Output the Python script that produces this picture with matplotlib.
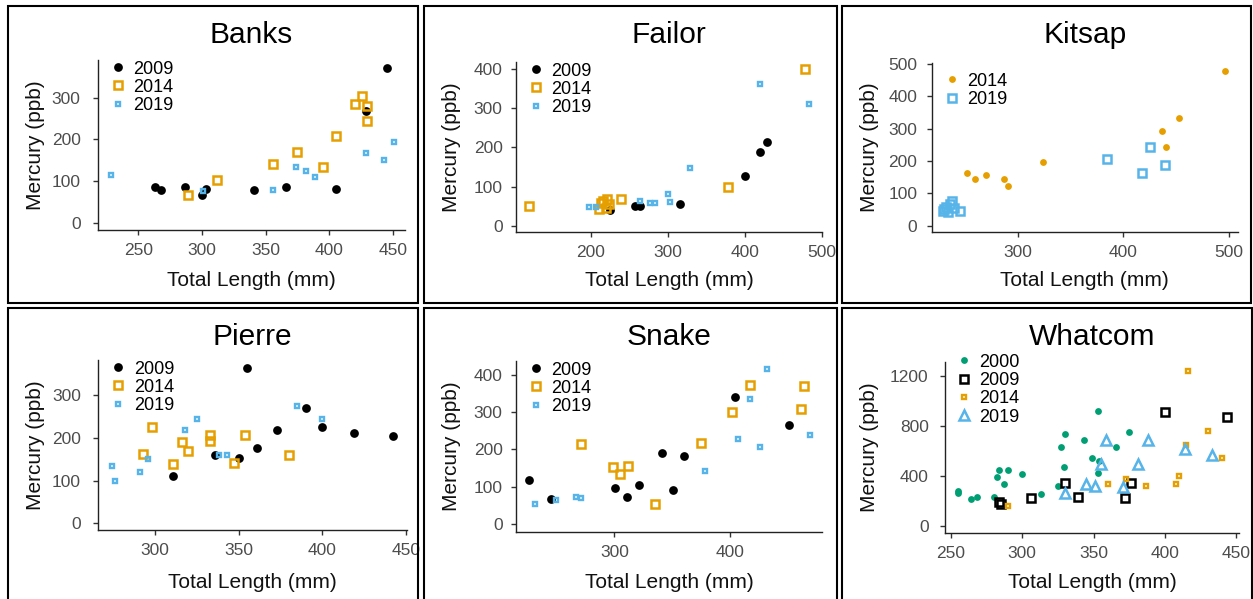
import matplotlib
matplotlib.use("Agg")
import matplotlib.pyplot as plt
from matplotlib.lines import Line2D
from matplotlib.patches import Rectangle

plt.rcParams['font.family'] = ['Liberation Sans', 'DejaVu Sans']

W, H = 1253, 599

BLACK = '#000000'
ORANGE = '#E69F00'
BLUE = '#56B4E9'
GREEN = '#009E73'

# ---- data: total length (mm) and mercury (ppb) by lake and year ----
banks_len_2009 = [263, 268, 287, 300, 303, 341, 366, 405, 429, 445]
banks_hg_2009 = [86, 78, 86, 68, 81, 78, 86, 82, 268, 370]
banks_len_2014 = [289, 312, 356, 375, 395, 405, 420, 426, 430, 430]
banks_hg_2014 = [66, 104, 141, 171, 133, 207, 284, 303, 280, 245]
banks_len_2019 = [229, 301, 356, 374, 382, 389, 429, 443, 451]
banks_hg_2019 = [114, 77, 78, 133, 125, 110, 167, 151, 195]

failor_len_2009 = [225, 257, 263, 316, 400, 420, 428]
failor_hg_2009 = [40, 51, 51, 55, 127, 189, 213]
failor_len_2014 = [119, 211, 213, 216, 219, 221, 223, 239, 378, 478]
failor_hg_2014 = [51, 42, 57, 63, 45, 67, 55, 68, 100, 400]
failor_len_2019 = [197, 207, 264, 276, 283, 300, 303, 329, 420, 483]
failor_hg_2019 = [47, 47, 64, 59, 59, 82, 60, 147, 362, 312]

kitsap_len_2014 = [252, 260, 270, 287, 291, 324, 437, 441, 453, 496]
kitsap_hg_2014 = [164, 144, 158, 144, 124, 198, 294, 244, 334, 480]
kitsap_len_2019 = [229, 230, 232, 234, 236, 238, 240, 245, 385, 418, 425, 440]
kitsap_hg_2019 = [45, 53, 58, 42, 66, 78, 55, 47, 208, 164, 244, 189]

pierre_len_2009 = [311, 336, 350, 355, 361, 373, 390, 400, 419, 442]
pierre_hg_2009 = [111, 160, 152, 362, 175, 217, 270, 224, 210, 203]
pierre_len_2014 = [293, 298, 311, 316, 320, 333, 333, 347, 354, 380]
pierre_hg_2014 = [163, 224, 138, 189, 168, 206, 193, 140, 206, 160]
pierre_len_2019 = [274, 276, 291, 296, 318, 325, 338, 343, 385, 400]
pierre_hg_2019 = [134, 100, 119, 150, 217, 243, 160, 160, 274, 244]

snake_len_2009 = [226, 245, 301, 311, 321, 341, 351, 360, 404, 451]
snake_hg_2009 = [118, 66, 96, 73, 105, 191, 91, 183, 340, 266]
snake_len_2014 = [271, 299, 305, 312, 335, 375, 402, 417, 461, 464]
snake_hg_2014 = [214, 154, 135, 157, 55, 218, 300, 373, 308, 370]
snake_len_2019 = [231, 250, 267, 271, 378, 407, 417, 426, 432, 469]
snake_hg_2019 = [53, 64, 73, 69, 143, 227, 335, 208, 415, 240]

whatcom_len_2000 = [255, 255, 264, 268, 280, 282, 284, 287, 290, 300, 313,
                    325, 327, 329, 330, 343, 349, 353, 353, 354, 366, 375]
whatcom_hg_2000 = [277, 259, 213, 227, 227, 392, 445, 331, 445, 411, 253,
                   317, 632, 472, 733, 683, 539, 917, 419, 517, 632, 747]
whatcom_len_2009 = [284, 285, 306, 330, 339, 372, 376, 400, 444]
whatcom_hg_2009 = [192, 173, 224, 344, 232, 219, 344, 912, 867]
whatcom_len_2014 = [290, 360, 373, 387, 408, 410, 415, 416, 430, 440]
whatcom_hg_2014 = [160, 331, 373, 317, 333, 397, 643, 1240, 757, 539]
whatcom_len_2019 = [330, 345, 351, 355, 359, 371, 381, 388, 414, 433]
whatcom_hg_2019 = [264, 331, 317, 491, 685, 312, 491, 685, 613, 565]

# marker styles
DOT_BIG = dict(marker='o', ms=6.3, mew=0)
DOT_SMALL = dict(marker='o', ms=4.9, mew=0)
SQ_BIG = dict(marker='s', ms=5.5, mew=1.8, mfc='none')
SQ_SMALL = dict(marker='s', ms=3.1, mew=1.7, mfc='none')
TRI = dict(marker='^', ms=7.2, mew=1.8, mfc='none')

# layout in pixels: frame box, axes box (left, top, right, bottom)
panels = [
    dict(title='Banks', frame=(8, 6, 418, 302.5), axes=(98, 60, 405, 230),
         xlim=(218.5, 459.5), ylim=(-16.7, 390),
         xticks=[250, 300, 350, 400, 450], yticks=[0, 100, 200, 300], ypad=13,
         leg=(20, 9),
         series=[('2009', banks_len_2009, banks_hg_2009, BLACK, DOT_BIG),
                 ('2014', banks_len_2014, banks_hg_2014, ORANGE, SQ_BIG),
                 ('2019', banks_len_2019, banks_hg_2019, BLUE, SQ_SMALL)]),
    dict(title='Failor', frame=(424.3, 6, 836.7, 302.5), axes=(516, 62, 822, 232),
         xlim=(102.6, 500), ylim=(-16, 418),
         xticks=[200, 300, 400, 500], yticks=[0, 100, 200, 300, 400], ypad=9,
         leg=(20, 9),
         series=[('2009', failor_len_2009, failor_hg_2009, BLACK, DOT_BIG),
                 ('2014', failor_len_2014, failor_hg_2014, ORANGE, SQ_BIG),
                 ('2019', failor_len_2019, failor_hg_2019, BLUE, SQ_SMALL)]),
    dict(title='Kitsap', frame=(842.3, 6, 1250.7, 302.5), axes=(931.7, 62.7, 1237.7, 232),
         xlim=(218.5, 508.5), ylim=(-19.5, 504.6),
         xticks=[300, 400, 500], yticks=[0, 100, 200, 300, 400, 500], ypad=10,
         leg=(20, 18.5),
         series=[('2014', kitsap_len_2014, kitsap_hg_2014, ORANGE, DOT_SMALL),
                 ('2019', kitsap_len_2019, kitsap_hg_2019, BLUE, SQ_BIG)]),
    dict(title='Pierre', frame=(8, 308, 418, 605), axes=(98.3, 360, 406.7, 530),
         xlim=(266.1, 450.4), ylim=(-15.6, 381.5),
         xticks=[300, 350, 400, 450], yticks=[0, 100, 200, 300], ypad=13,
         leg=(20, 9),
         series=[('2009', pierre_len_2009, pierre_hg_2009, BLACK, DOT_BIG),
                 ('2014', pierre_len_2014, pierre_hg_2014, ORANGE, SQ_BIG),
                 ('2019', pierre_len_2019, pierre_hg_2019, BLUE, SQ_SMALL)]),
    dict(title='Snake', frame=(424.3, 308, 836.7, 605), axes=(516, 361, 822.3, 531.7),
         xlim=(215, 479.8), ylim=(-20.7, 437.6),
         xticks=[300, 400], yticks=[0, 100, 200, 300, 400], ypad=9,
         leg=(20, 9),
         series=[('2009', snake_len_2009, snake_hg_2009, BLACK, DOT_BIG),
                 ('2014', snake_len_2014, snake_hg_2014, ORANGE, SQ_BIG),
                 ('2019', snake_len_2019, snake_hg_2019, BLUE, SQ_SMALL)]),
    dict(title='Whatcom', frame=(842.3, 308, 1251.5, 605), axes=(945, 362.3, 1239.3, 532.7),
         xlim=(245.8, 452.3), ylim=(-56, 1307),
         xticks=[250, 300, 350, 400, 450], yticks=[0, 400, 800, 1200], ypad=12,
         leg=(19, 0),
         series=[('2000', whatcom_len_2000, whatcom_hg_2000, GREEN, DOT_SMALL),
                 ('2009', whatcom_len_2009, whatcom_hg_2009, BLACK, SQ_BIG),
                 ('2014', whatcom_len_2014, whatcom_hg_2014, ORANGE, SQ_SMALL),
                 ('2019', whatcom_len_2019, whatcom_hg_2019, BLUE, TRI)]),
]

fig = plt.figure(figsize=(W / 100, H / 100), dpi=100)

for p in panels:
    l, t, r, b = p['axes']
    ax = fig.add_axes([l / W, 1 - b / H, (r - l) / W, (b - t) / H])
    handles = []
    for year, xs, ys, col, st in p['series']:
        ax.plot(xs, ys, ls='none', color=col, clip_on=False, **st)
        handles.append(Line2D([], [], ls='none', color=col, **st))
    ax.set_xlim(*p['xlim'])
    ax.set_ylim(*p['ylim'])
    ax.set_xticks(p['xticks'])
    ax.set_yticks(p['yticks'])
    for s in ['top', 'right']:
        ax.spines[s].set_visible(False)
    for s in ['left', 'bottom']:
        ax.spines[s].set_color('#222222')
        ax.spines[s].set_linewidth(1.0)
    ax.tick_params(length=3.6, width=1.0, color='#333333', labelcolor='#4D4D4D',
                   labelsize=12.5)
    ax.tick_params(axis='x', pad=6.0)
    ax.tick_params(axis='y', pad=p['ypad'] / 1.389 - 0.5)
    ax.set_facecolor('none')

    fl, ft, fr, fb = p['frame']
    cx = (l + r) / 2 / W
    fig.text(cx, 1 - (ft + 37) / H, p['title'], ha='center', va='baseline',
             fontsize=21.5, color='black')
    fig.text(cx, 1 - (ft + 280) / H, 'Total Length (mm)', ha='center',
             va='baseline', fontsize=15, color='#111111')
    fig.text((fl + 37) / W, 1 - (t + b) / 2 / H, 'Mercury (ppb)', ha='right',
             va='center', rotation=90, fontsize=15, color='#111111')

    dx, dy = p['leg']
    ax.legend(handles, [s[0] for s in p['series']], loc='upper left',
              bbox_to_anchor=((l + dx - 9) / W, 1 - (t + dy - 8.5) / H),
              bbox_transform=fig.transFigure, frameon=False, fontsize=13,
              borderpad=0, borderaxespad=0, handlelength=1.0, handleheight=0.7,
              handletextpad=0.35, labelspacing=0.07)

    fig.add_artist(Rectangle((fl / W, 1 - fb / H), (fr - fl) / W, (fb - ft) / H,
                             transform=fig.transFigure, fill=False,
                             edgecolor='black', linewidth=1.5, zorder=5))

fig.savefig('out.png', dpi=100)
